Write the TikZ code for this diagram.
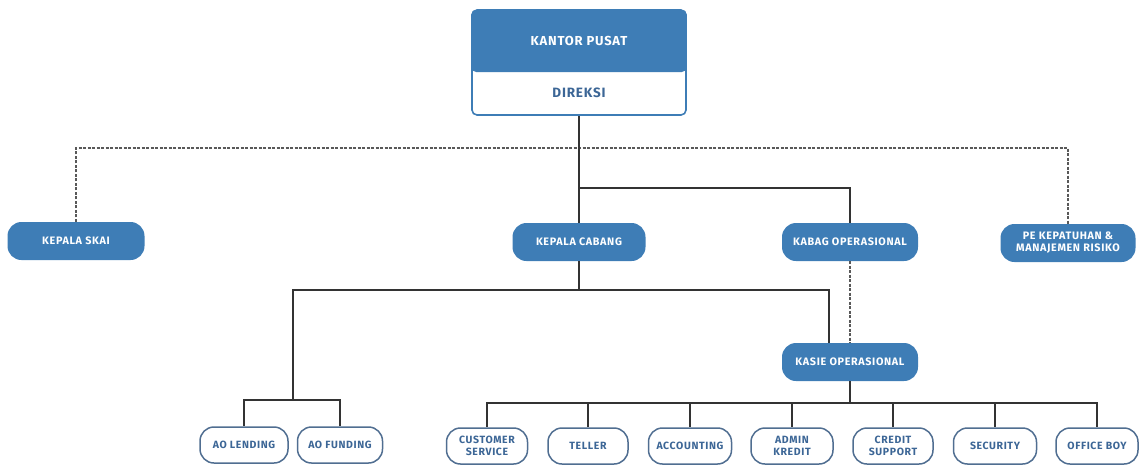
\documentclass[tikz,border=0pt]{standalone}
\usepackage{fontspec}
\setmainfont{Fira Sans}[LetterSpace=6]
\usetikzlibrary{positioning, calc}
\definecolor{orgblue}{RGB}{62,125,182}
\definecolor{orgline}{RGB}{80,110,145}
\definecolor{orgtext}{RGB}{60,102,150}

\begin{document}
\begin{tikzpicture}[x=1pt,y=-1pt]
		\tikzstyle{frame} = [rectangle, rounded corners=5, draw=orgblue, line width=1.6, fill=white, minimum width=214, minimum height=105, inner sep=0]
		\tikzstyle{head} = [rectangle, rounded corners=5, fill=orgblue, text=white, minimum width=215.6, minimum height=62, font=\bfseries\fontsize{13}{15}\selectfont]
		\tikzstyle{chief} = [rectangle, rounded corners=14, fill=orgblue, text=white, minimum height=38, inner sep=1, align=center, font=\bfseries\fontsize{10.8}{12}\selectfont]
		\tikzstyle{staff} = [rectangle, rounded corners=14, draw=orgline, line width=1.5, fill=white, text=orgtext, minimum height=36, inner sep=1, align=center, font=\bfseries\fontsize{10.5}{11.5}\selectfont]
		\tikzstyle{line} = [draw, line width=1.2, black!80]
		\tikzstyle{dashedline} = [draw, line width=1.1, black!65, dash pattern=on 3 off 1.5]
		\useasboundingbox (0,0) rectangle (1140,466);
		% top box
		\node [frame] (v1) at (579,62.5) {};
		\node [head] (v2) at (579,41) {KANTOR PUSAT};
		\node [text=orgtext, font=\bfseries\fontsize{13.5}{15}\selectfont] (v3) at (579,93) {DIREKSI};
		% second row
		\node [chief, minimum width=137] (v4) at (76,241) {KEPALA SKAI};
		\node [chief, minimum width=133] (v5) at (579,242) {KEPALA CABANG};
		\node [chief, minimum width=136] (v6) at (850,242) {KABAG OPERASIONAL};
		\node [chief, minimum width=135] (v7) at (1068,243) {PE KEPATUHAN \&\\MANAJEMEN RISIKO};
		\node [chief, minimum width=136] (v8) at (850,362) {KASIE OPERASIONAL};
		% bottom row
		\node [staff, minimum width=88] (v9) at (244,445) {AO LENDING};
		\node [staff, minimum width=85] (v10) at (340,445) {AO FUNDING};
		\node [staff, minimum width=81] (v11) at (487,446) {CUSTOMER\\SERVICE};
		\node [staff, minimum width=80] (v12) at (588,446) {TELLER};
		\node [staff, minimum width=83] (v13) at (690,446) {ACCOUNTING};
		\node [staff, minimum width=82] (v14) at (792,446) {ADMIN\\KREDIT};
		\node [staff, minimum width=80] (v15) at (893,446) {CREDIT\\SUPPORT};
		\node [staff, minimum width=83] (v16) at (995,446) {SECURITY};
		\node [staff, minimum width=82] (v17) at (1097,446) {OFFICE BOY};
		% junctions
		\coordinate (c1) at (579,148);
		\coordinate (c2) at (579,188);
		\coordinate (c3) at (579,290);
		\coordinate (c4) at (293,400);
		\coordinate (c5) at ($(v8.north)+(-21,0)$);
		\coordinate (c6) at (850,403);
		\draw [dashedline] (v4.north) |- (c1) -| (v7.north);
		\draw [line] (v1) -- (c2);
		\draw [line] (c2) -- (v5);
		\draw [line] (c2) -| (v6);
		\draw [line] (v5) -- (c3);
		\draw [line] (c5) |- (c3) -| (c4);
		\draw [line] (c4) -| (v9);
		\draw [line] (c4) -| (v10);
		\draw [dashedline] (v6) -- (v8);
		\draw [line] (v8) -- (c6);
		\foreach \n in {11,...,17}
			\draw [line] (c6) -| (v\n);
\end{tikzpicture}
\end{document}
